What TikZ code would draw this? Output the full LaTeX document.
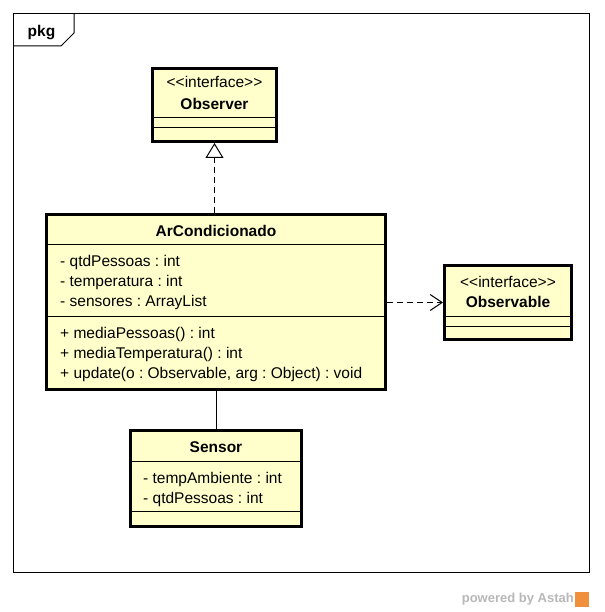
\documentclass[tikz,border=0pt]{standalone}
\usepackage{fontspec}
\setmainfont{Liberation Sans}
\usetikzlibrary{arrows.meta}
\definecolor{classfill}{HTML}{FFFFCC}
\definecolor{astahgray}{HTML}{B8B8B8}
\definecolor{astahorange}{HTML}{F0903C}
\frenchspacing
\begin{document}
\begin{tikzpicture}[x=1pt,y=-1pt,
  classbox/.style={draw=black, line width=3pt, fill=classfill, inner sep=0pt},
  divider/.style={draw=black, line width=1pt},
  txt/.style={inner sep=0pt, font=\fontsize{15.5}{18}\selectfont, text height=13pt, text depth=1.5pt},
  clsname/.style={txt, font=\fontsize{15.5}{18}\selectfont\bfseries},
  member/.style={txt, anchor=west},
  dep/.style={line width=1pt, dash pattern=on 6pt off 4pt}
]
\useasboundingbox (0,0) rectangle (604,612);
% package frame
\draw[line width=1pt] (13.5,13.5) rectangle (589.5,572.5);
\draw[line width=1pt] (13.5,46) -- (61,46) -- (74,33) -- (74,13.5);
\node[clsname] (pkg) at (41.5,31) {pkg};

% Observer
\node[classbox, minimum width=124pt, minimum height=73pt] (obs) at (214.5,105) {};
\draw[divider] (obs.west |- 0,118) -- (obs.east |- 0,118);
\draw[divider] (obs.west |- 0,128) -- (obs.east |- 0,128);
\node[txt] (obsst) at (214.5,82) {<\kern0pt<interface>\kern0pt>};
\node[clsname] (obsn) at (214.5,104) {Observer};

% ArCondicionado
\node[classbox, minimum width=339pt, minimum height=175pt] (arc) at (216,302) {};
\draw[divider] (arc.west |- 0,244) -- (arc.east |- 0,244);
\draw[divider] (arc.west |- 0,316) -- (arc.east |- 0,316);
\node[clsname] (arcn) at (216,230.5) {ArCondicionado};
\node[member] (a1) at (60,261) {- qtdPessoas : int};
\node[member] (a2) at (60,281) {- temperatura : int};
\node[member] (a3) at (60,300.5) {- sensores : ArrayList};
\node[member] (m1) at (60,332.5) {+ mediaPessoas() : int};
\node[member] (m2) at (60,352.5) {+ mediaTemperatura() : int};
\node[member] (m3) at (60,372.5) {+ update(o : Observable, arg : Object) : void};

% Observable
\node[classbox, minimum width=127pt, minimum height=74pt] (obl) at (508,302.5) {};
\draw[divider] (obl.west |- 0,316) -- (obl.east |- 0,316);
\draw[divider] (obl.west |- 0,326) -- (obl.east |- 0,326);
\node[txt] (oblst) at (508,281.5) {<\kern0pt<interface>\kern0pt>};
\node[clsname] (obln) at (508,301.5) {Observable};

% Sensor
\node[classbox, minimum width=171pt, minimum height=96pt] (sen) at (216,478.5) {};
\draw[divider] (sen.west |- 0,461) -- (sen.east |- 0,461);
\draw[divider] (sen.west |- 0,511) -- (sen.east |- 0,511);
\node[clsname] (senn) at (216,447) {Sensor};
\node[member] (s1) at (143,477.5) {- tempAmbiente : int};
\node[member] (s2) at (143,497.5) {- qtdPessoas : int};

% connectors
\draw[dep, -{Triangle[open, length=15pt, width=18pt, line width=1pt]}] (arc.north -| obs.south) -- (obs.south);
\draw[dep, -{Straight Barb[length=12pt, width=16pt, line width=1pt]}] (arc.east |- obl.west) -- (obl.west);
\draw[line width=1pt] (arc.south) -- (sen.north);

% footer
\node[inner sep=0pt, anchor=east, text=astahgray, font=\fontsize{13}{15}\selectfont\bfseries] (pw) at (574,599) {powered by Astah};
\node[inner sep=0pt, fill=astahorange, minimum width=14pt, minimum height=15pt, anchor=west] (logo) at (575,599) {};
\end{tikzpicture}
\end{document}
